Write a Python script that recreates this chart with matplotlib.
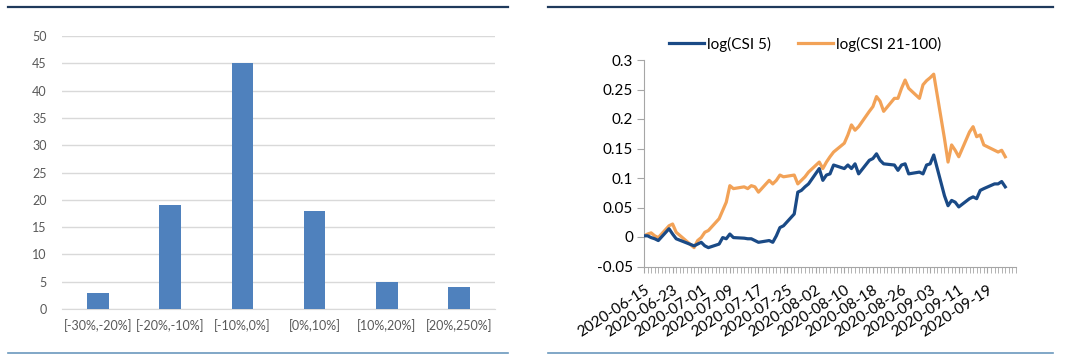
import numpy as np
import matplotlib.pyplot as plt
import matplotlib.dates as mdates
from matplotlib.lines import Line2D

plt.rcParams['font.family'] = ['Lato', 'DejaVu Sans']

# left panel: distribution of returns
bins = ['[-30%,-20%]', '[-20%,-10%]', '[-10%,0%]', '[0%,10%]', '[10%,20%]', '[20%,250%]']
counts = [3, 19, 45, 18, 5, 4]

# right panel: log index levels (trading days)
dates = ['2020-06-15', '2020-06-16', '2020-06-17', '2020-06-18', '2020-06-19',
         '2020-06-22', '2020-06-23', '2020-06-24', '2020-06-29', '2020-06-30',
         '2020-07-01', '2020-07-02', '2020-07-03', '2020-07-06', '2020-07-07',
         '2020-07-08', '2020-07-09', '2020-07-10', '2020-07-13', '2020-07-14',
         '2020-07-15', '2020-07-16', '2020-07-17', '2020-07-20', '2020-07-21',
         '2020-07-22', '2020-07-23', '2020-07-24', '2020-07-27', '2020-07-28',
         '2020-07-29', '2020-07-30', '2020-07-31', '2020-08-03', '2020-08-04',
         '2020-08-05', '2020-08-06', '2020-08-07', '2020-08-10', '2020-08-11',
         '2020-08-12', '2020-08-13', '2020-08-14', '2020-08-17', '2020-08-18',
         '2020-08-19', '2020-08-20', '2020-08-21', '2020-08-24', '2020-08-25',
         '2020-08-26', '2020-08-27', '2020-08-28', '2020-08-31', '2020-09-01',
         '2020-09-02', '2020-09-03', '2020-09-04', '2020-09-07', '2020-09-08',
         '2020-09-09', '2020-09-10', '2020-09-11', '2020-09-14', '2020-09-15',
         '2020-09-16', '2020-09-17', '2020-09-18', '2020-09-21', '2020-09-22',
         '2020-09-23', '2020-09-24']
csi5 = [0.002, 0.002, -0.001, -0.003, -0.006, 0.014, 0.005, -0.003, -0.015, -0.012,
        -0.009, -0.015, -0.018, -0.012, -0.001, -0.003, 0.005, -0.001, -0.002, -0.003,
        -0.003, -0.006, -0.009, -0.006, -0.009, 0.002, 0.016, 0.019, 0.039, 0.076,
        0.079, 0.085, 0.090, 0.116, 0.096, 0.105, 0.107, 0.122, 0.116, 0.122,
        0.116, 0.124, 0.107, 0.130, 0.133, 0.141, 0.130, 0.124, 0.122, 0.113,
        0.122, 0.124, 0.107, 0.110, 0.107, 0.122, 0.124, 0.139, 0.070, 0.053,
        0.062, 0.059, 0.051, 0.065, 0.068, 0.065, 0.079, 0.082, 0.090, 0.090,
        0.094, 0.085]
csi21_100 = [0.002, 0.005, 0.007, 0.002, -0.001, 0.019, 0.022, 0.008, -0.018, -0.006,
             -0.001, 0.008, 0.011, 0.031, 0.045, 0.059, 0.087, 0.082, 0.085, 0.082,
             0.087, 0.085, 0.076, 0.096, 0.090, 0.096, 0.105, 0.102, 0.105, 0.090,
             0.096, 0.102, 0.110, 0.127, 0.116, 0.127, 0.136, 0.144, 0.159, 0.173,
             0.190, 0.181, 0.187, 0.213, 0.221, 0.238, 0.230, 0.213, 0.235, 0.235,
             0.252, 0.266, 0.252, 0.235, 0.258, 0.265, 0.270, 0.276, 0.167, 0.127,
             0.156, 0.147, 0.136, 0.178, 0.187, 0.170, 0.173, 0.156, 0.147, 0.144,
             0.147, 0.136]
tick_dates = ['2020-06-15', '2020-06-23', '2020-07-01', '2020-07-09', '2020-07-17',
              '2020-07-25', '2020-08-02', '2020-08-10', '2020-08-18', '2020-08-26',
              '2020-09-03', '2020-09-11', '2020-09-19']

fig = plt.figure(figsize=(10.8, 3.55), dpi=100)

# ---- left: bar chart
ax1 = fig.add_axes([62/1080, 46/355, 433/1080, 273/355])
x = np.arange(len(bins))
ax1.bar(x, counts, width=0.3, color='#4f81bd', zorder=3)
ax1.set_xlim(-0.5, len(bins) - 0.5)
ax1.set_ylim(0, 50)
ax1.set_yticks(np.arange(0, 51, 5))
ax1.set_xticks(x)
ax1.set_xticklabels(bins)
ax1.grid(axis='y', color='#d9d9d9', linewidth=1, zorder=0)
for s in ['top', 'right', 'left']:
    ax1.spines[s].set_visible(False)
ax1.spines['bottom'].set_color('#d9d9d9')
ax1.tick_params(axis='both', length=0, labelsize=9, labelcolor='#595959')
ax1.tick_params(axis='y', pad=11)
ax1.tick_params(axis='x', pad=7)

# ---- right: line chart
ax2 = fig.add_axes([644/1080, 88.5/355, 372/1080, 206.5/355])
d = mdates.datestr2num(dates)
ax2.plot(d, csi5, color='#1a4a86', linewidth=2.3, label='log(CSI 5)', zorder=3)
ax2.plot(d, csi21_100, color='#f2a257', linewidth=2.3, label='log(CSI 21-100)', zorder=2)
x0 = mdates.datestr2num('2020-06-15')
ax2.set_xlim(x0, x0 + 104)
ax2.set_ylim(-0.05, 0.3)
ax2.set_yticks([-0.05, 0, 0.05, 0.1, 0.15, 0.2, 0.25, 0.3])
ax2.set_yticklabels(['-0.05', '0', '0.05', '0.1', '0.15', '0.2', '0.25', '0.3'])
ax2.set_xticks(mdates.datestr2num(tick_dates))
ax2.set_xticklabels(tick_dates, rotation=33, ha='right', va='top', rotation_mode='anchor')
ax2.set_xticks(np.arange(x0, x0 + 105), minor=True)
for s in ['top', 'right']:
    ax2.spines[s].set_visible(False)
ax2.spines['left'].set_color('#a6a6a6')
ax2.spines['bottom'].set_color('#a6a6a6')
ax2.tick_params(axis='y', length=5, color='#a6a6a6', labelsize=11, pad=3)
ax2.tick_params(axis='x', which='major', length=4, color='#a6a6a6', labelsize=11, pad=8)
ax2.tick_params(axis='x', which='minor', length=4, color='#a6a6a6', width=0.6)
ax2.legend(loc='center', bbox_to_anchor=(0.433, 1.077), ncol=2, frameon=False,
           fontsize=11, handlelength=2.3, columnspacing=1.8, handletextpad=0.2)

# page separator lines
fig.add_artist(Line2D([8/1080, 508/1080], [1 - 7/355] * 2, color='#1f3a5c', linewidth=1.6))
fig.add_artist(Line2D([548/1080, 1053/1080], [1 - 7/355] * 2, color='#1f3a5c', linewidth=1.6))
fig.add_artist(Line2D([8/1080, 508/1080], [1 - 353/355] * 2, color='#6b98bd', linewidth=1.2))
fig.add_artist(Line2D([548/1080, 1053/1080], [1 - 353/355] * 2, color='#6b98bd', linewidth=1.2))

fig.savefig('out.png', dpi=100)
